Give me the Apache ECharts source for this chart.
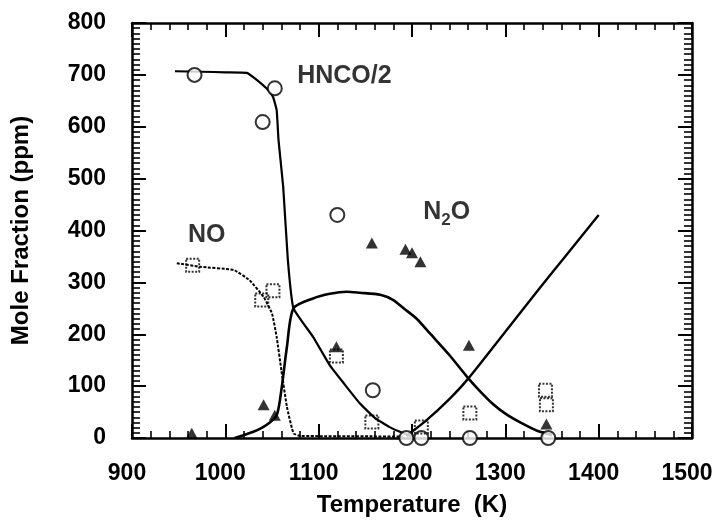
<!DOCTYPE html>
<html>
<head>
<meta charset="utf-8">
<script src="https://cdn.jsdelivr.net/npm/echarts@6/dist/echarts.min.js"></script>
<style>
html,body{margin:0;padding:0;background:#fff;}
#chart{width:719px;height:523px;}
</style>
</head>
<body>
<div id="chart"></div>
<script>
// ---- data (Temperature K, mole fraction ppm) ----
var hncoCurve = [[946,707],[975,706],[1000,705],[1023,704],[1034,690],[1044,674],[1051,658],[1055,632],[1057,574],[1062,484],[1067,343],[1073,250],[1094,195],[1112,140],[1128,103],[1144,67],[1160,39],[1176,21],[1191,9],[1200,3]];
var noCurve = [[948,337],[973,330],[1009,324],[1026,304],[1041,272],[1050,240],[1055,195],[1060,131],[1066,60],[1073,9],[1080,4],[1190,3]];
var n2oCurve = [[1010,0],[1030,12],[1044,25],[1055,44],[1060,92],[1066,176],[1073,250],[1094,269],[1112,278],[1130,282],[1144,280],[1166,276],[1180,266],[1191,250],[1205,230],[1219,202],[1240,160],[1259,118],[1272,92],[1287,65],[1300,47],[1316,30],[1334,14],[1350,6]];
var risingCurve = [[1194,4],[1216,35],[1240,75],[1260,114],[1300,205],[1335,285],[1362,345],[1400,430]];
var hncoPoints = [[967,700],[1040,609],[1053,674],[1120,430],[1158,92],[1194,0],[1210,0],[1262,0],[1346,0]];
var noPoints = [[965,333],[1039,266],[1051,284],[1119,158],[1157,31],[1210,21],[1262,48],[1343,92],[1344,64]];
var n2oPoints = [[964,9],[1041,64],[1053,44],[1119,176],[1157,376],[1193,364],[1200,357],[1209,340],[1261,179],[1344,27]];
var xTicks = [900,1000,1100,1200,1300,1400,1500];
var yTicks = [0,100,200,300,400,500,600,700,800];
var labelHNCO = [1077,697];
var labelNO = [980,391];
var labelN2O = [1212,436];

var FONT = '"Liberation Sans", Arial, sans-serif';
var chart = echarts.init(document.getElementById('chart'));

function xAx(pos, showLabel){
  return {
    type:'value', position:pos, min:xTicks[0], max:xTicks[xTicks.length-1], interval:100,
    name: showLabel ? 'Temperature  (K)' : '', nameLocation:'middle', nameGap:55,
    nameTextStyle:{fontFamily:FONT,fontWeight:'bold',fontSize:24,color:'#000'},
    axisLine:{show:true,onZero:false,lineStyle:{color:'#000',width:2.5}},
    axisTick:{show:true,inside:true,length:14,lineStyle:{color:'#000',width:2}},
    minorTick:{show:true,splitNumber:5,length:7,lineStyle:{color:'#000',width:1.6}},
    axisLabel:{show:showLabel,margin:24,fontFamily:FONT,fontWeight:'bold',fontSize:23,color:'#000',padding:[0,10,0,0],
      formatter:function(v){return String(v);}},
    splitLine:{show:false}, minorSplitLine:{show:false}
  };
}
function yAx(pos, showLabel){
  return {
    type:'value', position:pos, min:yTicks[0], max:yTicks[yTicks.length-1], interval:100,
    name: showLabel ? 'Mole Fraction (ppm)' : '', nameLocation:'middle', nameGap:99,
    nameTextStyle:{fontFamily:FONT,fontWeight:'bold',fontSize:24,color:'#000'},
    axisLine:{show:true,onZero:false,lineStyle:{color:'#000',width:2.5}},
    axisTick:{show:true,inside:true,length:14,lineStyle:{color:'#000',width:2}},
    minorTick:{show:true,splitNumber:10,length:8,lineStyle:{color:'#000',width:1.6}},
    axisLabel:{show:showLabel,margin:26,fontFamily:FONT,fontWeight:'bold',fontSize:23,color:'#000',
      formatter:function(v){return String(v);}},
    splitLine:{show:false}, minorSplitLine:{show:false}
  };
}

function curve(data, width, type, sm){
  return {type:'line', data:data, showSymbol:false, symbol:'none', smooth:sm,
    lineStyle:{color:'#000', width:width, type:type}, z:2, silent:true, animation:false};
}
function annot(pt, text, align, rich){
  return {type:'scatter', data:[pt], symbolSize:0, z:5, silent:true, animation:false,
    label:{show:true, position:'inside', align:align, verticalAlign:'middle',
      formatter:text, fontFamily:FONT, fontSize:25, fontWeight:'bold', color:'#000', rich:rich||{}}};
}

chart.setOption({
  animation:false,
  backgroundColor:'#fff',
  grid:{left:132,right:27,top:23,bottom:85,containLabel:false},
  xAxis:[xAx('bottom',true), xAx('top',false)],
  yAxis:[yAx('left',true), yAx('right',false)],
  series:[
    curve(hncoCurve, 2.2, 'solid', 0.12),
    curve(noCurve, 2, [3,1.5], 0.12),
    curve(n2oCurve, 2.6, 'solid', 0.25),
    curve(risingCurve, 2.4, 'solid', 0.25),
    {type:'scatter', data:hncoPoints, symbol:'circle', symbolSize:14, z:4, animation:false,
      itemStyle:{color:'#fff', borderColor:'#000', borderWidth:2}},
    {type:'scatter', data:noPoints, symbol:'rect', symbolSize:13, z:4, animation:false,
      itemStyle:{color:'rgba(0,0,0,0)', borderColor:'#000', borderWidth:2, borderType:[2,1.5]}},
    {type:'scatter', data:n2oPoints, symbol:'triangle', symbolSize:[12,11], z:4, animation:false,
      itemStyle:{color:'#000'}},
    annot(labelHNCO, 'HNCO/2', 'left'),
    annot(labelNO, 'NO', 'center'),
    annot(labelN2O, '{a|N}{s|2}{a|O}', 'left', {
      a:{fontFamily:FONT,fontSize:25,fontWeight:'bold',color:'#000',lineHeight:34,verticalAlign:'middle'},
      s:{fontFamily:FONT,fontSize:17,fontWeight:'bold',color:'#000',lineHeight:34,verticalAlign:'bottom'}
    })
  ]
});
</script>
</body>
</html>
